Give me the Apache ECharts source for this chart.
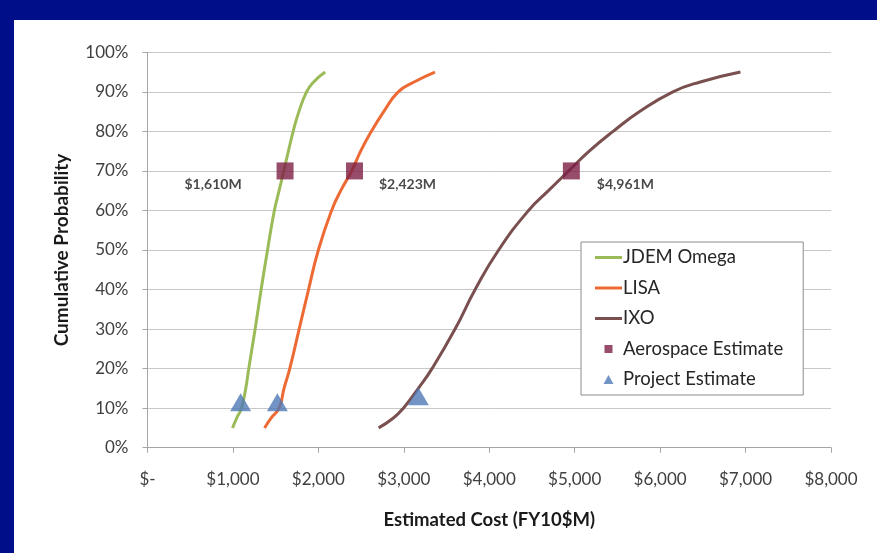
<!DOCTYPE html>
<html>
<head>
<meta charset="utf-8">
<script src="https://cdn.jsdelivr.net/npm/echarts@6/dist/echarts.min.js"></script>
<style>
  html, body { margin: 0; padding: 0; width: 877px; height: 553px; background: #000E89; overflow: hidden; }
  #chart { position: absolute; left: 14px; top: 20px; width: 863px; height: 533px; background: #ffffff; }
</style>
</head>
<body>
<div id="chart"></div>
<script>
// ---- data ----
const probLevels = [5, 7.5, 10, 15, 20, 30, 40, 50, 60, 65, 70, 75, 80, 85, 90, 92.5, 95];   // cumulative probability (%)
const jdemCost   = [995, 1044, 1100, 1150, 1185, 1260, 1330, 1405, 1485, 1540, 1595, 1649, 1705, 1772, 1862, 1945, 2080];
const lisaCost   = [1370, 1446, 1540, 1598, 1665, 1775, 1885, 2000, 2155, 2262, 2390, 2495, 2620, 2765, 2935, 3120, 3365];
const ixoCost    = [2705, 2878, 2995, 3170, 3330, 3600, 3835, 4110, 4460, 4693, 4930, 5170, 5450, 5760, 6150, 6470, 6940];

const aerospaceCost = [1610, 2423, 4961];
const aerospaceProb = [70, 70, 70];
const aerospaceLabels = ['$1,610M', '$2,423M', '$4,961M'];

const projectCost = [1090, 1520, 3170];
const projectProb = [11.5, 11.5, 13];

const seriesNames = ['JDEM Omega', 'LISA', 'IXO', 'Aerospace Estimate', 'Project Estimate'];
const xTickValues = [0, 1000, 2000, 3000, 4000, 5000, 6000, 7000, 8000];
const xTickLabels = ['$-', '$1,000', '$2,000', '$3,000', '$4,000', '$5,000', '$6,000', '$7,000', '$8,000'];

// ---- build chart ----
const FONT = 'Lato, "Open Sans", sans-serif';
const pair = (xs, ys) => xs.map((x, i) => [x, ys[i]]);
const labelOffsets = [[-72, 14], [53, 14], [54, 14]];
const LINE_ICON = 'path://M0,0M27,14M0,5.5H27V8.5H0Z';

const chart = echarts.init(document.getElementById('chart'), null, { renderer: 'canvas' });

const lineSeries = (name, costs, color) => ({
  name, type: 'line', data: pair(costs, probLevels),
  smooth: 0.5, symbol: 'none', z: 2,
  lineStyle: { color, width: 3 }, itemStyle: { color }
});

chart.setOption({
  animation: false,
  textStyle: { fontFamily: FONT },
  grid: { left: 133.5, right: 46, top: 32.3, bottom: 105.3 },
  xAxis: {
    type: 'value', min: 0, max: 8000, interval: 1000,
    axisLine: { show: true, lineStyle: { color: '#a6a6a6', width: 1 } },
    axisTick: { show: true, length: 5, lineStyle: { color: '#a6a6a6' } },
    splitLine: { show: false },
    axisLabel: {
      color: '#404040', fontSize: 17, margin: 23, fontFamily: FONT,
      formatter: v => xTickLabels[xTickValues.indexOf(v)]
    },
    name: 'Estimated Cost (FY10$M)', nameLocation: 'middle', nameGap: 63,
    nameTextStyle: { color: '#1a1a1a', fontSize: 18.5, fontWeight: 'bold', fontFamily: FONT }
  },
  yAxis: {
    type: 'value', min: 0, max: 100, interval: 10,
    axisLine: { show: true, lineStyle: { color: '#a6a6a6', width: 1 } },
    axisTick: { show: true, length: 5, lineStyle: { color: '#a6a6a6' } },
    splitLine: { show: true, lineStyle: { color: '#c8c8c8', width: 1 } },
    axisLabel: { color: '#404040', fontSize: 17, margin: 19, fontFamily: FONT, formatter: v => v + '%' },
    name: 'Cumulative Probability', nameLocation: 'middle', nameGap: 76, nameRotate: 90,
    nameTextStyle: { color: '#1a1a1a', fontSize: 19, fontWeight: 'bold', fontFamily: FONT }
  },
  legend: {
    orient: 'vertical', left: 567, top: 222,
    padding: [6, 20, 6, 14],
    itemWidth: 27, itemHeight: 14, itemGap: 11.5,
    backgroundColor: '#ffffff', borderColor: '#8c8c8c', borderWidth: 1,
    textStyle: { color: '#262626', fontSize: 18.5, lineHeight: 18.5, fontFamily: FONT, padding: [0, 0, 0, -4] },
    data: [
      { name: seriesNames[0], icon: LINE_ICON },
      { name: seriesNames[1], icon: LINE_ICON },
      { name: seriesNames[2], icon: LINE_ICON },
      { name: seriesNames[3], icon: 'path://M0,0M27,14M9.5,3H17.5V11H9.5Z' },
      { name: seriesNames[4], icon: 'path://M0,0M27,14M13.5,2.5L18.5,11.5H8.5Z' }
    ]
  },
  series: [
    lineSeries(seriesNames[0], jdemCost, '#9BBB59'),
    lineSeries(seriesNames[1], lisaCost, '#EE6A35'),
    lineSeries(seriesNames[2], ixoCost, '#7A4F4F'),
    {
      name: seriesNames[3], type: 'scatter', symbol: 'rect', symbolSize: 17, z: 4,
      itemStyle: { color: '#7D1F45' },
      data: aerospaceCost.map((x, i) => ({
        value: [x, aerospaceProb[i]],
        label: {
          show: true, position: 'inside', offset: labelOffsets[i],
          formatter: aerospaceLabels[i],
          color: '#1a1a1a', fontSize: 14, fontWeight: 'bold', fontFamily: FONT
        }
      }))
    },
    {
      name: seriesNames[4], type: 'scatter', symbol: 'triangle', symbolSize: [21, 18], z: 5,
      itemStyle: { color: '#4F79B5' },
      data: pair(projectCost, projectProb)
    }
  ]
});
</script>
</body>
</html>
